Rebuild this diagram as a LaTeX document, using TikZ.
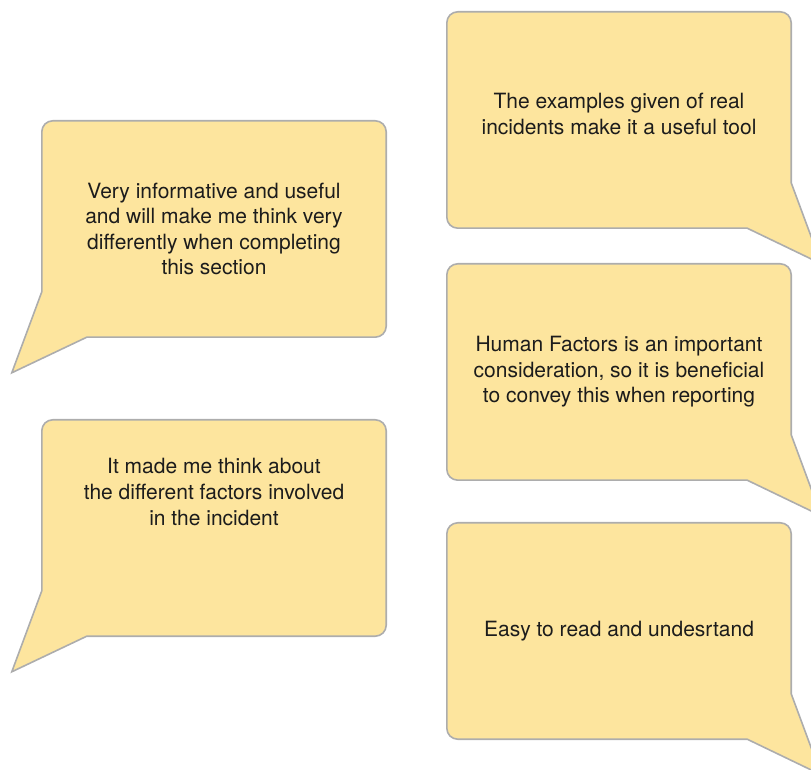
\documentclass[tikz,border=0pt]{standalone}
\usepackage{fontspec}
\setmainfont{TeX Gyre Heros}
\usepackage{tikz}
\usetikzlibrary{positioning,calc}

\definecolor{bubfill}{HTML}{FDE59E}
\definecolor{bubedge}{HTML}{ADADAD}
\definecolor{bubink}{HTML}{1C1C1C}

\begin{document}
\begin{tikzpicture}[x=1pt,y=1pt,on grid,
   box/.style={rectangle, minimum width=344pt, minimum height=216pt, inner sep=0pt},
   bubble/.style={fill=bubfill, draw=bubedge, line width=1.6pt},
   bubtext/.style={align=center, text=bubink, font=\fontsize{21}{25.6}\selectfont}]
   \useasboundingbox (0,0) rectangle (811,769);

   \node[box] (b_1) at (214,540) {};
   \node[box] (b_2) at (214,241) {};
   \node[box] (b_3) at (619,649) {};
   \node[box] (b_4) at (619,397) {};
   \node[box] (b_5) at (619,138) {};

   % left column, tail at the lower left
   \draw[bubble] ($(b_1.south west)+(45,0)$)
      -- ($(b_1.south east)+(-11,0)$) arc[start angle=-90, end angle=0, radius=11pt]
      -- ($(b_1.north east)+(0,-11)$) arc[start angle=0, end angle=90, radius=11pt]
      -- ($(b_1.north west)+(11,0)$) arc[start angle=90, end angle=180, radius=11pt]
      -- ($(b_1.north west)+(0,-171)$)
      -- ($(b_1.north west)+(-30,-252)$)
      -- cycle;
   \draw[bubble] ($(b_2.south west)+(45,0)$)
      -- ($(b_2.south east)+(-11,0)$) arc[start angle=-90, end angle=0, radius=11pt]
      -- ($(b_2.north east)+(0,-11)$) arc[start angle=0, end angle=90, radius=11pt]
      -- ($(b_2.north west)+(11,0)$) arc[start angle=90, end angle=180, radius=11pt]
      -- ($(b_2.north west)+(0,-171)$)
      -- ($(b_2.north west)+(-30,-252)$)
      -- cycle;

   % right column, tail at the lower right
   \draw[bubble] ($(b_3.south east)+(-44,0)$)
      -- ($(b_3.south west)+(11,0)$) arc[start angle=270, end angle=180, radius=11pt]
      -- ($(b_3.north west)+(0,-11)$) arc[start angle=180, end angle=90, radius=11pt]
      -- ($(b_3.north east)+(-11,0)$) arc[start angle=90, end angle=0, radius=11pt]
      -- ($(b_3.north east)+(0,-171)$)
      -- ($(b_3.north east)+(30,-252)$)
      -- cycle;
   \draw[bubble] ($(b_4.south east)+(-44,0)$)
      -- ($(b_4.south west)+(11,0)$) arc[start angle=270, end angle=180, radius=11pt]
      -- ($(b_4.north west)+(0,-11)$) arc[start angle=180, end angle=90, radius=11pt]
      -- ($(b_4.north east)+(-11,0)$) arc[start angle=90, end angle=0, radius=11pt]
      -- ($(b_4.north east)+(0,-171)$)
      -- ($(b_4.north east)+(30,-252)$)
      -- cycle;
   \draw[bubble] ($(b_5.south east)+(-44,0)$)
      -- ($(b_5.south west)+(11,0)$) arc[start angle=270, end angle=180, radius=11pt]
      -- ($(b_5.north west)+(0,-11)$) arc[start angle=180, end angle=90, radius=11pt]
      -- ($(b_5.north east)+(-11,0)$) arc[start angle=90, end angle=0, radius=11pt]
      -- ($(b_5.north east)+(0,-171)$)
      -- ($(b_5.north east)+(30,-252)$)
      -- cycle;

   \node[bubtext] (t_1) at (b_1) {Very informative and useful\\and will make me think very\\differently when completing\\this section};
   \node[bubtext] (t_2) [above=36pt of b_2] {It made me think about\\the different factors involved\\in the incident};
   \node[bubtext] (t_3) [above=6pt of b_3] {The examples given of real\\incidents make it a useful tool};
   \node[bubtext] (t_4) at (b_4) {Human Factors is an important\\consideration, so it is beneficial\\to convey this when reporting};
   \node[bubtext] (t_5) at (b_5) {Easy to read and undesrtand};
\end{tikzpicture}
\end{document}
